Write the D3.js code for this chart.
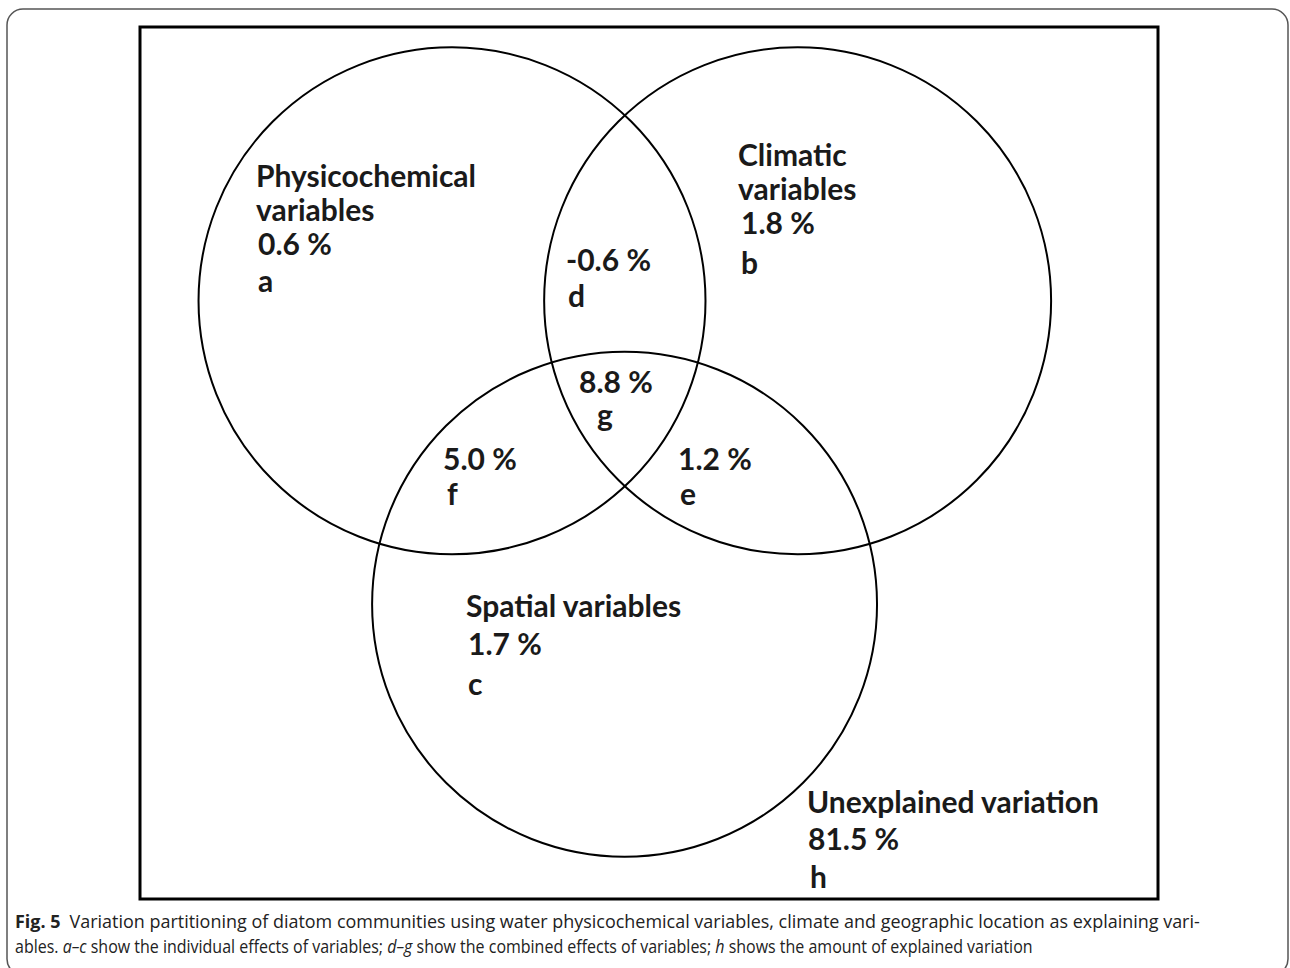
<!DOCTYPE html>
<html>
<head>
<meta charset="utf-8">
<script src="https://cdn.jsdelivr.net/npm/d3@7"></script>
<style>
  body { margin: 0; background: #fff; }
  svg { display: block; }
  .lbl { font-family: Lato, "Open Sans", sans-serif; font-weight: 700; fill: #1a1a1a; }
  .cap { font-family: "Open Sans", "Noto Sans", sans-serif; fill: #222; }
</style>
</head>
<body>
<div id="chart"></div>
<script>
// Venn partition: three explanatory sets
var setNames = ["Physicochemical variables", "Climatic variables", "Spatial variables"];

// fractions of variation
var regionKeys = ["a", "b", "c", "d", "e", "f", "g", "h"];
var regionValues = [0.6, 1.8, 1.7, -0.6, 1.2, 5.0, 8.8, 81.5];

var captionLines = [
  "Variation partitioning of diatom communities using water physicochemical variables, climate and geographic location as explaining vari-",
  "ables. a\u2013c show the individual effects of variables; d\u2013g show the combined effects of variables; h shows the amount of explained variation"
];

var width = 1290, height = 968;

var svg = d3.select("#chart")
  .append("svg")
  .attr("width", width)
  .attr("height", height);

// outer page frame
svg.append("rect")
  .attr("x", 7).attr("y", 9)
  .attr("width", 1281).attr("height", 966)
  .attr("rx", 16)
  .attr("fill", "none")
  .attr("stroke", "#555")
  .attr("stroke-width", 1.5);

// figure box
svg.append("rect")
  .attr("x", 140).attr("y", 27)
  .attr("width", 1018).attr("height", 872)
  .attr("fill", "#fff")
  .attr("stroke", "#000")
  .attr("stroke-width", 3);

// diagram units -> pixels
var x = d3.scaleLinear().domain([0, 100]).range([140, 1158]);
var y = d3.scaleLinear().domain([0, 100]).range([27, 899]);
var rScale = d3.scaleLinear().domain([0, 100]).range([0, 1018]);

var circles = [
  {name: setNames[0], cx: 30.65, cy: 31.4, r: 24.9},
  {name: setNames[1], cx: 64.6, cy: 31.4, r: 24.9},
  {name: setNames[2], cx: 47.6, cy: 66.2, r: 24.8}
];

svg.selectAll("circle.set")
  .data(circles)
  .enter()
  .append("circle")
  .attr("class", "set")
  .attr("cx", d => x(d.cx))
  .attr("cy", d => y(d.cy))
  .attr("r", d => rScale(d.r))
  .attr("fill", "none")
  .attr("stroke", "#000")
  .attr("stroke-width", 2);

var fmt = v => v.toFixed(1) + " %";
var val = k => fmt(regionValues[regionKeys.indexOf(k)]);

// text blocks: lines [text, x offset] and baseline offsets
var blocks = [
  {x: 256, y: 187, lines: [["Physicochemical", 0], ["variables", 0], [val("a"), 2], ["a", 2]], dy: [0, 34, 68, 105]},
  {x: 738, y: 166, lines: [["Climatic", 0], ["variables", 0], [val("b"), 3], ["b", 3]], dy: [0, 34, 68, 108]},
  {x: 566, y: 271, lines: [[val("d"), 0], ["d", 2]], dy: [0, 36]},
  {x: 579, y: 393, lines: [[val("g"), 0], ["g", 18]], dy: [0, 33]},
  {x: 443, y: 470, lines: [[val("f"), 0], ["f", 4]], dy: [0, 35]},
  {x: 678, y: 470, lines: [[val("e"), 0], ["e", 2]], dy: [0, 35]},
  {x: 466, y: 617, lines: [["Spatial variables", 0], [val("c"), 2], ["c", 2]], dy: [0, 38, 78]},
  {x: 807, y: 813, lines: [["Unexplained variation", 0], [val("h"), 1], ["h", 3]], dy: [0, 37, 75]}
];

blocks.forEach(function(b) {
  b.lines.forEach(function(l, i) {
    svg.append("text")
      .attr("class", "lbl")
      .attr("x", b.x + l[1])
      .attr("y", b.y + b.dy[i])
      .attr("font-size", 30)
      .text(l[0]);
  });
});

// caption, squeezed horizontally to the width of the original
function fitLine(t, x0, y0, target) {
  var w = t.node().getComputedTextLength();
  t.attr("transform", `translate(${x0},${y0}) scale(${target / w},1)`);
}

var cap1 = svg.append("text")
  .attr("class", "cap")
  .attr("font-size", 18);
cap1.append("tspan").attr("font-weight", 700).text("Fig. 5");
cap1.append("tspan").text("\u2002" + captionLines[0]);
fitLine(cap1, 15, 928, 1186);

var cap2 = svg.append("text")
  .attr("class", "cap")
  .attr("font-size", 18);
// italic region letters
var parts = captionLines[1].split(/(a\u2013c|d\u2013g|\bh\b)/);
parts.forEach(function(p) {
  var t = cap2.append("tspan").text(p);
  if (p === "a\u2013c" || p === "d\u2013g" || p === "h") t.attr("font-style", "italic");
});
fitLine(cap2, 15, 953, 1018);
</script>
</body>
</html>
